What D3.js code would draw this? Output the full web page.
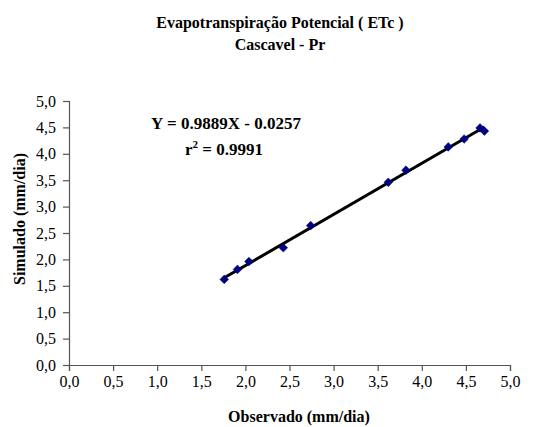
<!DOCTYPE html>
<html>
<head>
<meta charset="utf-8">
<script src="https://cdn.jsdelivr.net/npm/d3@7"></script>
<style>
  body { margin: 0; background: #fff; }
  text { font-family: "Liberation Serif", "Times New Roman", serif; fill: #000; }
</style>
</head>
<body>
<div class="chart"></div>
<script>
var titleLines = ["Evapotranspiração Potencial ( ETc )", "Cascavel - Pr"];
var xLabel = "Observado (mm/dia)";
var yLabel = "Simulado (mm/dia)";
var equationText = "Y = 0.9889X - 0.0257";
var r2Value = "0.9991";

var observed  = [1.76, 1.91, 2.04, 2.43, 2.74, 3.62, 3.82, 4.30, 4.48, 4.66, 4.71];
var simulated = [1.62, 1.81, 1.96, 2.22, 2.64, 3.46, 3.69, 4.13, 4.28, 4.49, 4.43];
var tickValues = [0, 0.5, 1, 1.5, 2, 2.5, 3, 3.5, 4, 4.5, 5];

var width = 535, height = 427;
var margin = {left: 69, right: 25, top: 101, bottom: 62};

var svg = d3.select(".chart").append("svg")
  .attr("width", width)
  .attr("height", height);

var x = d3.scaleLinear().domain([0, 5]).range([margin.left, width - margin.right]);
var y = d3.scaleLinear().domain([0, 5]).range([height - margin.bottom, margin.top]);

var fmt = function(d) { return d3.format(".1f")(d).replace(".", ","); };

// title
svg.append("g").selectAll("text")
  .data(titleLines)
  .enter().append("text")
  .attr("x", 280)
  .attr("y", function(d, i) { return 28 + i * 22; })
  .attr("text-anchor", "middle")
  .attr("font-weight", "bold")
  .attr("font-size", 16)
  .text(function(d) { return d; });

// axes
var xAxis = svg.append("g")
  .attr("transform", "translate(0," + y(0) + ")")
  .call(d3.axisBottom(x).tickValues(tickValues).tickFormat(fmt).tickSize(6).tickPadding(5));
var yAxis = svg.append("g")
  .attr("transform", "translate(" + x(0) + ",0)")
  .call(d3.axisLeft(y).tickValues(tickValues).tickFormat(fmt).tickSize(6).tickPadding(7));

[xAxis, yAxis].forEach(function(ax) {
  ax.select(".domain").attr("stroke", "#555").attr("stroke-width", 1.2);
  ax.selectAll(".tick line").attr("stroke", "#555").attr("stroke-width", 1.2);
  ax.selectAll(".tick text")
    .attr("font-family", "Liberation Serif, Times New Roman, serif")
    .attr("font-size", 16)
    .attr("fill", "#000");
});

// axis titles
svg.append("text")
  .attr("x", 299)
  .attr("y", 422)
  .attr("text-anchor", "middle")
  .attr("font-weight", "bold")
  .attr("font-size", 16)
  .text(xLabel);

svg.append("text")
  .attr("transform", "translate(25,219) rotate(-90)")
  .attr("text-anchor", "middle")
  .attr("font-weight", "bold")
  .attr("font-size", 16)
  .text(yLabel);

// least squares trend line across the observed range
var pts = observed.map(function(d, i) { return [d, simulated[i]]; });
var mx = d3.mean(observed), my = d3.mean(simulated);
var sxy = d3.sum(pts, function(p) { return (p[0] - mx) * (p[1] - my); });
var sxx = d3.sum(pts, function(p) { return (p[0] - mx) * (p[0] - mx); });
var slope = sxy / sxx, intercept = my - slope * mx;
var xr = d3.extent(observed);

svg.append("path")
  .datum(xr.map(function(v) { return [v, slope * v + intercept]; }))
  .attr("fill", "none")
  .attr("stroke", "#000")
  .attr("stroke-width", 3)
  .attr("d", d3.line().x(function(d) { return x(d[0]); }).y(function(d) { return y(d[1]); }));

// markers
svg.append("g").selectAll("path")
  .data(pts)
  .enter().append("path")
  .attr("transform", function(d) { return "translate(" + x(d[0]) + "," + y(d[1]) + ")"; })
  .attr("d", d3.symbol().type(d3.symbolDiamond2).size(48))
  .attr("fill", "#000080")
  .attr("stroke", "#000080")
  .attr("stroke-width", 0.5);

// equation
svg.append("text")
  .attr("x", 226)
  .attr("y", 129)
  .attr("text-anchor", "middle")
  .attr("font-weight", "bold")
  .attr("font-size", 17)
  .text(equationText);

var r2 = svg.append("text")
  .attr("x", 224)
  .attr("y", 155)
  .attr("text-anchor", "middle")
  .attr("font-weight", "bold")
  .attr("font-size", 17);
r2.append("tspan").text("r");
r2.append("tspan").attr("dy", -7).attr("font-size", 11).text("2");
r2.append("tspan").attr("dy", 7).text(" = " + r2Value);
</script>
</body>
</html>
